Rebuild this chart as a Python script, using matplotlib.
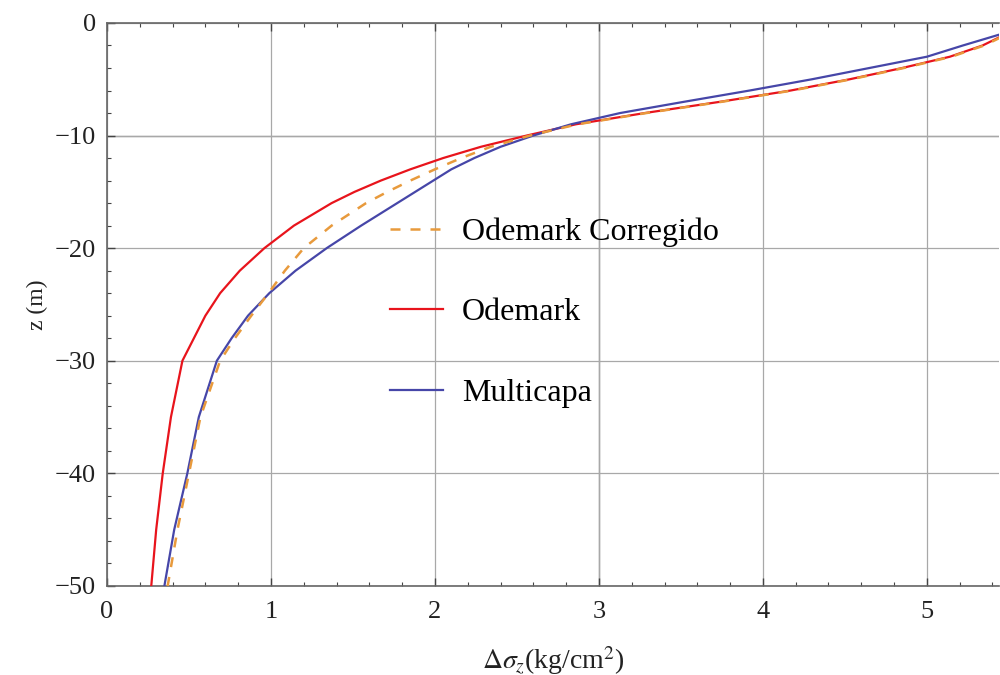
import numpy as np
import matplotlib
matplotlib.use("Agg")
import matplotlib.pyplot as plt
from matplotlib.ticker import MultipleLocator

plt.rcParams['font.family'] = ['Liberation Serif', 'DejaVu Serif']
plt.rcParams['mathtext.fontset'] = 'stix'

# depth levels (m) and stress values (kg/cm2)
z = [-0.5, -1, -2, -3, -4, -5, -6, -7, -8, -9, -10, -11, -12, -13, -14, -15,
     -16, -18, -20, -22, -24, -26, -28, -30, -35, -40, -45, -50]

multicapa = [5.55, 5.45, 5.22, 5.00, 4.65, 4.30, 3.92, 3.52, 3.13, 2.83, 2.60,
             2.40, 2.24, 2.10, 1.99, 1.88, 1.77, 1.55, 1.34, 1.15, 0.99, 0.86,
             0.76, 0.67, 0.56, 0.49, 0.41, 0.35]
odemark = [5.60, 5.48, 5.34, 5.14, 4.85, 4.53, 4.17, 3.74, 3.28, 2.86, 2.56,
           2.28, 2.05, 1.85, 1.67, 1.51, 1.37, 1.14, 0.96, 0.81, 0.69, 0.60,
           0.53, 0.46, 0.39, 0.34, 0.30, 0.27]
odemark_corr = [5.61, 5.49, 5.35, 5.15, 4.86, 4.54, 4.18, 3.75, 3.29, 2.87, 2.58,
                2.34, 2.16, 2.00, 1.85, 1.71, 1.58, 1.37, 1.20, 1.085, 0.985, 0.88,
                0.78, 0.69, 0.57, 0.50, 0.43, 0.37]

fig = plt.figure(figsize=(10, 6.75), dpi=100)
ax = fig.add_axes([0.107, 0.132, 0.892, 0.834])

l_corr, = ax.plot(odemark_corr, z, color='#e89a3c', lw=1.8, ls=(0, (4, 4)),
                  label='Odemark Corregido', zorder=4)
l_ode, = ax.plot(odemark, z, color='#e8141c', lw=1.6, label='Odemark', zorder=3)
l_mul, = ax.plot(multicapa, z, color='#4646a8', lw=1.6, label='Multicapa', zorder=3)

ax.set_xlim(0, 5.44)
ax.set_ylim(-50, 0)

ax.xaxis.set_major_locator(MultipleLocator(1))
ax.xaxis.set_minor_locator(MultipleLocator(0.2))
ax.yaxis.set_major_locator(MultipleLocator(10))
ax.yaxis.set_minor_locator(MultipleLocator(2))
ax.tick_params(which='both', direction='in', top=True, right=False,
               colors='#444444', labelcolor='#222222')
ax.tick_params(which='major', length=6, width=1.0)
ax.tick_params(which='minor', length=3, width=0.8)
ax.tick_params(axis='x', labelsize=19, pad=11)
ax.tick_params(axis='y', labelsize=19, pad=8)

ax.grid(True, which='major', color='#a8a8a8', lw=0.9)
ax.axvline(3, color='#555555', lw=0.9, zorder=1)
ax.axhline(-10, color='#666666', lw=0.9, zorder=1)

for side in ['left', 'bottom', 'top']:
    ax.spines[side].set_color('#666666')
    ax.spines[side].set_linewidth(1.2)
ax.spines['right'].set_visible(False)

ax.set_ylabel('z (m)', fontsize=17, labelpad=5, color='#222222')
ax.set_xlabel(r'$\Delta\sigma_z$(kg/cm$^2$)', fontsize=20, labelpad=15, color='#222222')

ax.legend(handles=[l_corr, l_ode, l_mul], loc='upper left',
          bbox_to_anchor=(0.39, 0.678), bbox_transform=fig.transFigure,
          frameon=False, fontsize=23, handlelength=1.65, handletextpad=0.6,
          labelspacing=1.6, borderpad=0, borderaxespad=0)

fig.savefig('out.png', dpi=100)
